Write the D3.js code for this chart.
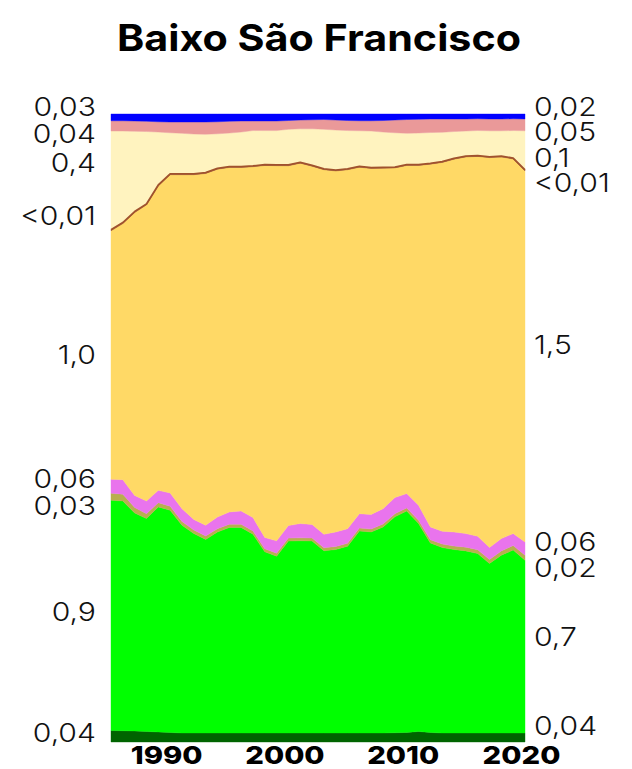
<!DOCTYPE html>
<html>
<head>
<meta charset="utf-8">
<script src="https://cdn.jsdelivr.net/npm/d3@7"></script>
<style>
  html, body { margin: 0; padding: 0; background: #fff; }
  svg { display: block; }
</style>
</head>
<body>
<svg id="chart" width="632" height="769"></svg>
<script>
// ---------------- DATA ----------------
const years = [1985,1986,1987,1988,1989,1990,1991,1992,1993,1994,1995,1996,1997,1998,1999,2000,2001,2002,2003,2004,2005,2006,2007,2008,2009,2010,2011,2012,2013,2014,2015,2016,2017,2018,2019,2020];

const forest = [.046,.045,.044,.042,.040,.038,.036,.036,.036,.036,.036,.036,.036,.036,.036,.036,.036,.036,.036,.036,.036,.036,.036,.036,.037,.038,.042,.038,.036,.036,.036,.036,.036,.036,.036,.036];
const savanna = [.918,.916,.869,.849,.897,.886,.828,.795,.771,.801,.819,.819,.792,.722,.705,.764,.766,.765,.726,.731,.744,.805,.801,.821,.861,.883,.829,.756,.739,.731,.726,.715,.676,.709,.729,.689];
const grassland = [.028,.027,.022,.019,.017,.016,.015,.014,.014,.013,.013,.013,.013,.012,.012,.012,.012,.012,.012,.012,.012,.012,.012,.012,.012,.012,.013,.013,.014,.014,.015,.015,.016,.017,.018,.020];
const agriculture = [.056,.058,.048,.051,.049,.053,.051,.042,.043,.047,.049,.053,.053,.045,.049,.050,.057,.054,.054,.058,.058,.057,.058,.061,.065,.057,.060,.051,.051,.056,.054,.054,.048,.049,.048,.053];
const pasture = [.991,1.021,1.128,1.181,1.214,1.269,1.331,1.375,1.402,1.387,1.373,1.369,1.398,1.483,1.496,1.433,1.437,1.428,1.453,1.439,1.430,1.381,1.379,1.357,1.315,1.308,1.355,1.447,1.470,1.486,1.502,1.514,1.555,1.522,1.493,1.480];
const other = [.004,.004,.004,.003,.003,.003,.003,.003,.003,.003,.003,.003,.003,.003,.003,.003,.003,.003,.003,.003,.003,.003,.003,.003,.003,.003,.003,.003,.003,.003,.003,.003,.003,.003,.003,.004];
const mosaic = [.394,.365,.320,.289,.211,.164,.162,.159,.153,.138,.134,.138,.141,.136,.137,.142,.134,.146,.158,.160,.153,.142,.146,.141,.137,.125,.126,.123,.117,.107,.100,.100,.104,.101,.110,.156];
const nonVegetated = [.041,.041,.041,.041,.041,.043,.045,.048,.049,.048,.047,.044,.038,.038,.038,.035,.035,.036,.039,.040,.040,.040,.041,.046,.051,.055,.055,.054,.053,.050,.048,.047,.047,.047,.047,.047];
const water = [.027,.027,.028,.029,.031,.032,.032,.032,.032,.031,.029,.028,.028,.028,.028,.026,.024,.023,.022,.024,.026,.027,.027,.026,.024,.022,.021,.020,.020,.020,.020,.019,.020,.020,.019,.020];

const seriesKeys = ["forest","savanna","grassland","agriculture","pasture","other","mosaic","nonVegetated","water"];
const seriesValues = {forest, savanna, grassland, agriculture, pasture, other, mosaic, nonVegetated, water};

const leftLabels  = ["0,04","0,9","0,03","0,06","1,0","<0,01","0,4","0,04","0,03"];
const rightLabels = ["0,04","0,7","0,02","0,06","1,5","<0,01","0,1","0,05","0,02"];
const tickYears = [1990, 2000, 2010, 2020];
const title = "Baixo São Francisco";

// ---------------- STYLE / LAYOUT ----------------
const colors = {
  forest: "#006400", savanna: "#00ff00", grassland: "#b8af4f", agriculture: "#e974ed",
  pasture: "#ffd966", other: "#a0522d", mosaic: "#fff3bf", nonVegetated: "#ea9999", water: "#0000ff"
};
const plot = {left: 111, right: 525, top: 114, bottom: 742};
const leftLabelY  = [733, 612, 506, 479, 355, 216, 163, 134, 107];
const rightLabelY = [726, 637, 568, 542, 345, 183, 158, 132, 107];
const labelFont = 26;
const fontFamily = "Inter, 'Open Sans', 'DejaVu Sans', sans-serif";
const widen = 1.16;   // Montserrat-like wider glyphs

function stretch(sel, factor) {
  sel.each(function() {
    const w = this.getComputedTextLength();
    d3.select(this).attr("textLength", w * factor).attr("lengthAdjust", "spacingAndGlyphs");
  });
}

// ---------------- CHART ----------------
const table = years.map((y, i) => {
  const row = {year: y};
  seriesKeys.forEach(k => row[k] = seriesValues[k][i]);
  return row;
});

const stack = d3.stack().keys(seriesKeys).offset(d3.stackOffsetExpand).order(d3.stackOrderNone);
const stacked = stack(table);

const x = d3.scaleLinear().domain([years[0], years[years.length-1]]).range([plot.left, plot.right]);
const y = d3.scaleLinear().domain([0, 1]).range([plot.bottom, plot.top]);

const svg = d3.select("#chart");

const area = d3.area()
  .x(d => x(d.data.year))
  .y0(d => y(d[0]))
  .y1(d => y(d[1]));

svg.append("g").selectAll("path")
  .data(stacked)
  .join("path")
  .attr("d", area)
  .attr("fill", d => colors[d.key])
  .attr("stroke", d => colors[d.key])
  .attr("stroke-width", 0.4);

// brown line on top of the thin "other" band
const otherLayer = stacked.find(s => s.key === "other");
svg.append("path")
  .datum(otherLayer)
  .attr("d", d3.line().x(d => x(d.data.year)).y(d => y(d[1])))
  .attr("fill", "none")
  .attr("stroke", colors.other)
  .attr("stroke-width", 1.8)
  .attr("stroke-linejoin", "round");

// Title
const titleText = svg.append("text")
  .attr("x", 319)
  .attr("y", 51)
  .attr("text-anchor", "middle")
  .attr("font-family", fontFamily)
  .attr("font-weight", 700)
  .attr("font-size", 37)
  .attr("fill", "#000")
  .text(title);
titleText.attr("textLength", 404).attr("lengthAdjust", "spacingAndGlyphs");

// X axis
const xAxis = d3.axisBottom(x).tickValues(tickYears).tickFormat(d3.format("d")).tickSize(0).tickPadding(4);
const gx = svg.append("g").attr("transform", `translate(-4,${plot.bottom})`).call(xAxis);
gx.select(".domain").remove();
gx.selectAll("text")
  .attr("font-family", fontFamily)
  .attr("font-weight", 800)
  .attr("font-size", 25)
  .attr("fill", "#000");
stretch(gx.selectAll("text"), 1.17);

// Edge labels
const baselineShift = labelFont * 0.36;
const lt = svg.append("g").selectAll("text")
  .data(leftLabels)
  .join("text")
  .attr("x", 96)
  .attr("y", (d, i) => leftLabelY[i] + baselineShift)
  .attr("text-anchor", "end")
  .attr("font-family", fontFamily)
  .attr("font-weight", 300)
  .attr("font-size", labelFont)
  .attr("fill", "#111")
  .text(d => d);
stretch(lt, widen);

const rt = svg.append("g").selectAll("text")
  .data(rightLabels)
  .join("text")
  .attr("x", 534)
  .attr("y", (d, i) => rightLabelY[i] + baselineShift)
  .attr("text-anchor", "start")
  .attr("font-family", fontFamily)
  .attr("font-weight", 300)
  .attr("font-size", labelFont)
  .attr("fill", "#111")
  .text(d => d);
stretch(rt, widen);
</script>
</body>
</html>
